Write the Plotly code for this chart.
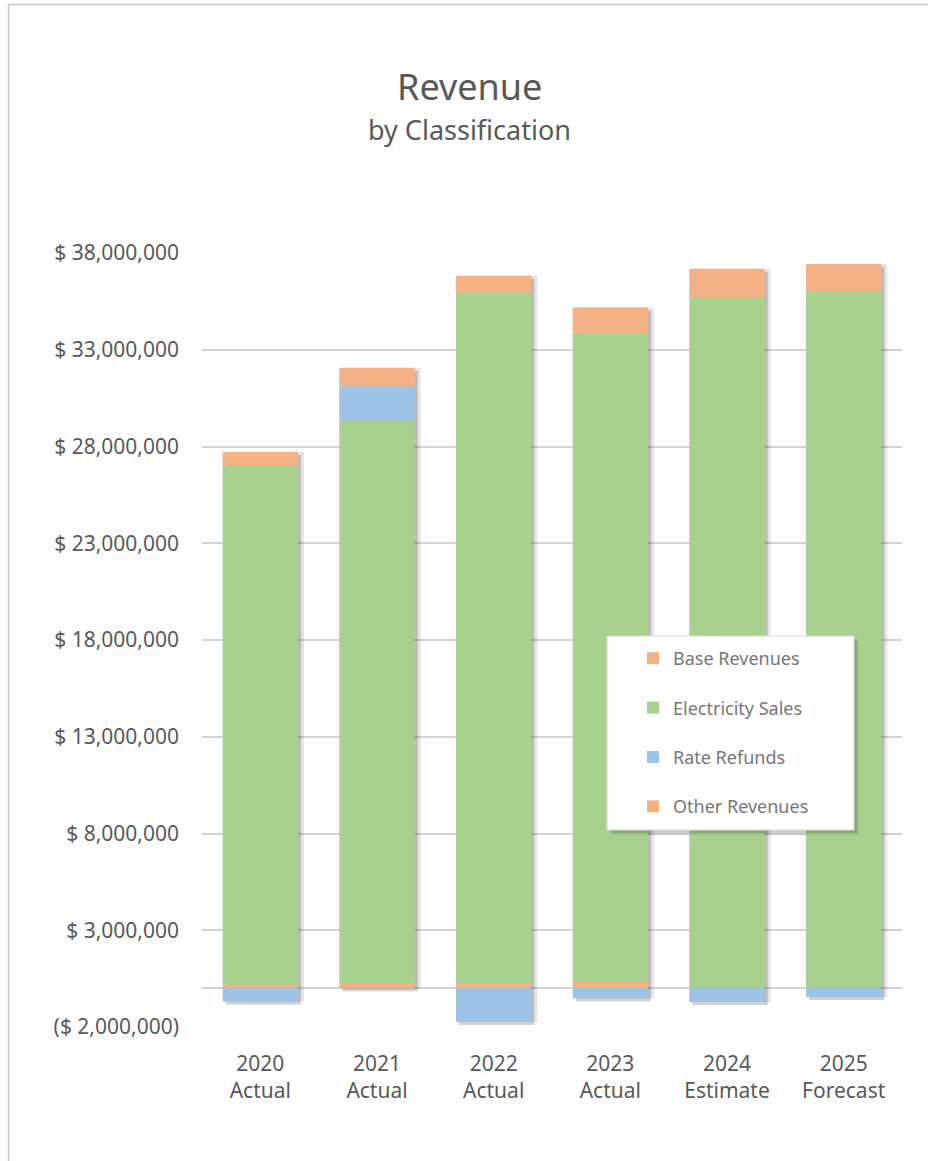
import plotly.graph_objects as go

# values (dollars)
categories = ["2020<br>Actual", "2021<br>Actual", "2022<br>Actual",
              "2023<br>Actual", "2024<br>Estimate", "2025<br>Forecast"]
base_revenues = [200_000, 270_000, 270_000, 330_000, 0, 0]
electricity_sales = [26_800_000, 29_080_000, 35_690_000, 33_510_000, 35_700_000, 36_020_000]
rate_refunds = [-680_000, 1_760_000, -1_740_000, -520_000, -710_000, -450_000]
other_revenues = [710_000, 960_000, 860_000, 1_340_000, 1_480_000, 1_410_000]

y_tickvals = [-2_000_000, 3_000_000, 8_000_000, 13_000_000, 18_000_000,
              23_000_000, 28_000_000, 33_000_000, 38_000_000]
y_ticktext = ["($ 2,000,000)", "$ 3,000,000", "$ 8,000,000", "$ 13,000,000", "$ 18,000,000",
              "$ 23,000,000", "$ 28,000,000", "$ 33,000,000", "$ 38,000,000"]

SERIES = [
    ("Base Revenues", base_revenues, "#f4b183"),
    ("Electricity Sales", electricity_sales, "#a9d18e"),
    ("Rate Refunds", rate_refunds, "#9dc3e6"),
    ("Other Revenues", other_revenues, "#f4b183"),
]

FONT = "Noto Sans"
TEXT = "#595959"
W, H = 928, 1161
L, R, T, B = 202, 26, 253, 134
Y_LO, Y_HI = -2_000_000, 38_000_000

plot_w = W - L - R
plot_h = H - T - B
px_per_cat = plot_w / len(categories)
px_per_val = plot_h / (Y_HI - Y_LO)


def px_x(x):
    return (x - L) / plot_w


def px_y(y):
    return 1 - (y - T) / plot_h


fig = go.Figure()

# soft drop shadow: two offset grey copies of the stacks, drawn underneath
shadows = [("x", "y", "rgba(0,0,0,0.10)"), ("x2", "y2", "rgba(0,0,0,0.18)")]
for xa, ya, col in shadows:
    for name, vals, _ in SERIES:
        fig.add_trace(go.Bar(
            x=categories, y=vals, xaxis=xa, yaxis=ya,
            marker=dict(color=col, line=dict(width=0)),
            showlegend=False, hoverinfo="skip",
        ))

for name, vals, color in SERIES:
    fig.add_trace(go.Bar(
        x=categories, y=vals, name=name, xaxis="x3", yaxis="y3",
        legendgroup=name,
        marker=dict(color=color, line=dict(width=0)),
    ))


def shifted(dx, dy):
    xs = dx / px_per_cat
    ys = dy / px_per_val
    return [-0.5 - xs, len(categories) - 0.5 - xs], [Y_LO + ys, Y_HI + ys]


xr1, yr1 = shifted(6, 5)
xr2, yr2 = shifted(3, 3)
tick_font = dict(size=21, color=TEXT, family=FONT)

fig.update_layout(
    width=W, height=H,
    margin=dict(l=L, r=R, t=T, b=B),
    paper_bgcolor="white", plot_bgcolor="white",
    barmode="relative", bargap=0.354,
    font=dict(family=FONT, color=TEXT, size=20),
    showlegend=True,
    xaxis=dict(range=xr1, showgrid=False, zeroline=False, showticklabels=False, ticks=""),
    yaxis=dict(
        range=[Y_LO, Y_HI], tickvals=y_tickvals, ticktext=y_ticktext,
        showgrid=True, gridcolor="#d4d4d4", gridwidth=1.5,
        zeroline=True, zerolinecolor="#d4d4d4", zerolinewidth=1.5,
        ticks="", ticklabelstandoff=22, tickfont=tick_font,
    ),
    xaxis2=dict(range=xr2, overlaying="x", visible=False),
    yaxis2=dict(range=yr2, overlaying="y", visible=False),
    xaxis3=dict(range=[-0.5, len(categories) - 0.5], overlaying="x", showgrid=False,
                ticks="", ticklabelstandoff=22, tickfont=tick_font),
    yaxis3=dict(range=[Y_LO, Y_HI], overlaying="y", visible=False),
    legend=dict(
        x=px_x(607), y=px_y(640),
        xanchor="left", yanchor="top",
        bgcolor="rgba(0,0,0,0)", borderwidth=0,
        font=dict(size=18, color="#767676", family=FONT),
        traceorder="grouped", tracegroupgap=23,
        indentation=26,
    ),
)

# shadow layer 1 uses a shifted y range so the stacks sit a few px lower
fig.update_layout(yaxis=dict(range=[Y_LO, Y_HI]))

# headline
fig.add_annotation(text="Revenue", xref="paper", yref="paper",
                   x=px_x(469), y=px_y(86), yanchor="middle",
                   showarrow=False, font=dict(size=36, color=TEXT))
fig.add_annotation(text="by Classification", xref="paper", yref="paper",
                   x=px_x(469), y=px_y(130), yanchor="middle",
                   showarrow=False, font=dict(size=27, color=TEXT))

# chart frame
fig.add_shape(type="rect", xref="paper", yref="paper",
              x0=px_x(8.5), x1=1.1, y0=-0.3, y1=px_y(4.5),
              line=dict(color="#c6c6c6", width=1.5), fillcolor="rgba(0,0,0,0)", layer="below")
# legend shadow (soft, two layers) and white legend box
for off, alpha in [(5, 0.08), (3, 0.12)]:
    fig.add_shape(type="rect", xref="paper", yref="paper",
                  x0=px_x(607 + off), x1=px_x(854 + off),
                  y0=px_y(830 + off), y1=px_y(636 + off),
                  line=dict(width=0), fillcolor=f"rgba(0,0,0,{alpha})", layer="above")
fig.add_shape(type="rect", xref="paper", yref="paper",
              x0=px_x(607), x1=px_x(854), y0=px_y(830), y1=px_y(636),
              line=dict(color="#d9d9d9", width=1), fillcolor="white", layer="above")

fig.write_html("out.html", config={"displayModeBar": False},
               post_script="document.body.style.margin='0';")
